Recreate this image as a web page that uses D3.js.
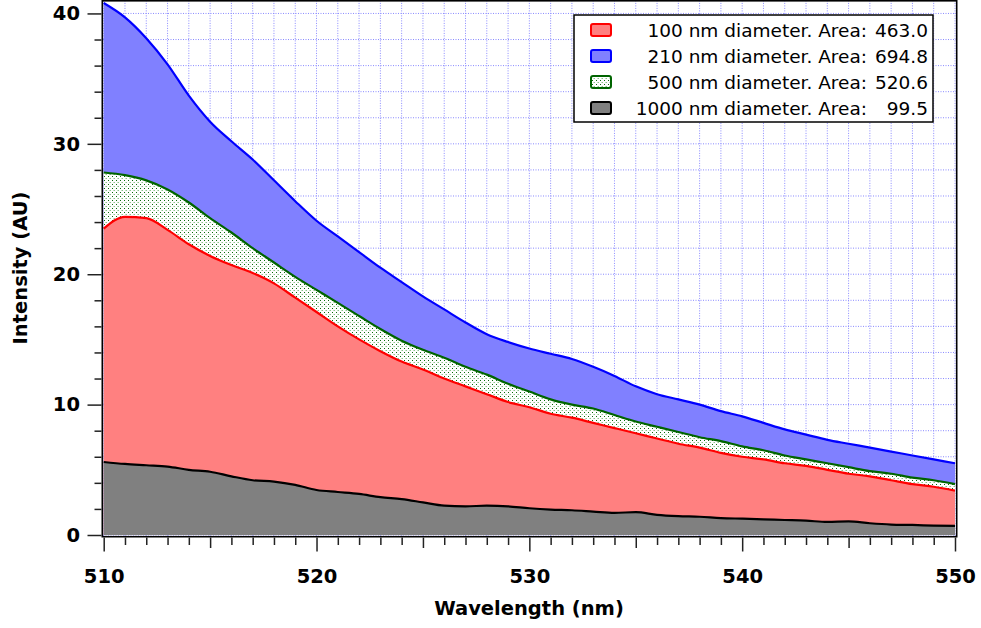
<!DOCTYPE html>
<html>
<head>
<meta charset="utf-8">
<script src="https://cdn.jsdelivr.net/npm/d3@7"></script>
<style>
  html, body { margin: 0; padding: 0; background: #fff; }
  svg { display: block; }
  .tick text { font-family: "DejaVu Sans", Verdana, sans-serif; font-weight: bold; font-size: 19.5px; fill: #000; }
  .tick line { stroke: #222; stroke-width: 1.5; }
  .title { font-family: "DejaVu Sans", Verdana, sans-serif; font-weight: bold; font-size: 19.5px; fill: #000; }
  .legend text { font-family: "DejaVu Sans", Verdana, sans-serif; font-size: 18.5px; fill: #000; }
</style>
</head>
<body>
<div id="chart"></div>
<script>
// wavelength samples (nm)
const wavelength = [510,511,512,513,514,515,516,517,518,519,
                    520,521,522,523,524,525,526,527,528,529,
                    530,531,532,533,534,535,536,537,538,539,
                    540,541,542,543,544,545,546,547,548,549,550];

// intensities (AU)
const d210 = [40.8,39.7,38.1,36.1,33.7,31.7,30.2,28.8,27.2,25.6,
              24.1,22.9,21.7,20.5,19.4,18.3,17.3,16.3,15.4,14.8,
              14.3,13.9,13.5,12.9,12.2,11.4,10.8,10.4,10.0,9.5,
              9.1,8.6,8.1,7.7,7.3,7.0,6.7,6.4,6.1,5.8,5.5];
const d500 = [27.8,27.6,27.2,26.5,25.5,24.3,23.2,22.0,20.9,19.8,
              18.8,17.8,16.8,15.8,14.9,14.2,13.6,12.9,12.3,11.6,
              11.0,10.4,10.0,9.7,9.2,8.7,8.3,7.9,7.5,7.2,
              6.8,6.5,6.1,5.8,5.5,5.2,4.9,4.7,4.4,4.2,3.9];
const d100 = [23.5,24.4,24.3,23.4,22.3,21.4,20.7,20.1,19.3,18.2,
              17.1,16.0,15.0,14.1,13.3,12.7,12.0,11.4,10.8,10.2,
              9.8,9.3,9.0,8.6,8.2,7.8,7.4,7.0,6.7,6.3,
              6.0,5.8,5.5,5.3,5.0,4.7,4.5,4.2,3.9,3.7,3.4];
const d1000 = [5.6,5.45,5.35,5.25,5.0,4.85,4.5,4.2,4.1,3.85,
               3.45,3.3,3.15,2.9,2.75,2.5,2.25,2.2,2.25,2.2,
               2.05,1.95,1.9,1.8,1.7,1.75,1.55,1.45,1.4,1.3,
               1.25,1.2,1.15,1.1,1.0,1.05,0.9,0.8,0.77,0.72,0.7];

const legendNames = ['100 nm diameter. Area:', '210 nm diameter. Area:',
                     '500 nm diameter. Area:', '1000 nm diameter. Area:'];
const legendAreas = ['463.0', '694.8', '520.6', '99.5'];

const xMajor = [510,520,530,540,550];
const yMajor = [0,10,20,30,40];

const W = 981, H = 628;
const svg = d3.select('#chart').append('svg').attr('width', W).attr('height', H);

const x = d3.scaleLinear().domain([510,550]).range([103.7,955]);
const y = d3.scaleLinear().domain([0,41]).range([535,0.4]);

// pattern for the 500 nm layer
const defs = svg.append('defs');
const pat = defs.append('pattern').attr('id','dots')
  .attr('patternUnits','userSpaceOnUse').attr('width',4).attr('height',4);
pat.append('rect').attr('width',4).attr('height',4).attr('fill','#fff');
pat.append('rect').attr('x',0).attr('y',0).attr('width',1).attr('height',1).attr('fill','#0b6b0b');
pat.append('rect').attr('x',2).attr('y',2).attr('width',1).attr('height',1).attr('fill','#8cc48c');
pat.append('rect').attr('x',1).attr('y',2).attr('width',1).attr('height',1).attr('fill','#c4e2c4');

// grid
const grid = svg.append('g').attr('stroke','#8a8aff').attr('stroke-width',1).attr('stroke-dasharray','1,1.5');
grid.selectAll('line.v').data(d3.range(510,551,1)).join('line')
  .attr('x1', d=>x(d)).attr('x2', d=>x(d)).attr('y1', 0.4).attr('y2', 536);
grid.selectAll('line.h').data(d3.range(0,41,2)).join('line')
  .attr('y1', d=>y(d)).attr('y2', d=>y(d)).attr('x1', 103).attr('x2', 956);

// layers, drawn biggest first
const layers = [
  {vals: d210,  fill: '#8080ff',     line: '#0000ff'},
  {vals: d500,  fill: 'url(#dots)',  line: '#006400'},
  {vals: d100,  fill: '#ff8080',     line: '#ff0000'},
  {vals: d1000, fill: '#808080',     line: '#000000'}
];
const area = d3.area().x((d,i)=>x(wavelength[i])).y0(y(0)).y1(d=>y(d)).curve(d3.curveMonotoneX);
const line = d3.line().x((d,i)=>x(wavelength[i])).y(d=>y(d)).curve(d3.curveMonotoneX);
layers.forEach(L => {
  svg.append('path').attr('d', area(L.vals)).attr('fill', L.fill);
  svg.append('path').attr('d', line(L.vals)).attr('fill','none')
    .attr('stroke', L.line).attr('stroke-width', 2.2);
});

// frame
svg.append('rect').attr('x',102.3).attr('y',0.8).attr('width',854.4).attr('height',535.9)
  .attr('fill','none').attr('stroke','#000').attr('stroke-width',1.6);

// y axis
const yAxisG = svg.append('g').attr('transform','translate(101.5,0)');
yAxisG.append('g')
  .call(d3.axisLeft(y).tickValues(d3.range(0,41,2).filter(v=>v%10)).tickSize(7).tickFormat(''))
  .call(g=>g.select('.domain').remove());
yAxisG.append('g')
  .call(d3.axisLeft(y).tickValues(yMajor).tickSize(14).tickPadding(7.5).tickFormat(d3.format('d')))
  .call(g=>g.select('.domain').remove());

// x axis
const xAxisG = svg.append('g').attr('transform','translate(0,537.5)');
xAxisG.append('g')
  .call(d3.axisBottom(x).tickValues(d3.range(510,551,1).filter(v=>v%5)).tickSize(7.5).tickFormat(''))
  .call(g=>g.select('.domain').remove());
xAxisG.append('g')
  .call(d3.axisBottom(x).tickValues([515,525,535,545]).tickSize(10.5).tickFormat(''))
  .call(g=>g.select('.domain').remove());
xAxisG.append('g')
  .call(d3.axisBottom(x).tickValues(xMajor).tickSize(14).tickPadding(17.5).tickFormat(d3.format('d')))
  .call(g=>g.select('.domain').remove());

// titles
svg.append('text').attr('class','title').attr('x', 529).attr('y', 615)
  .attr('text-anchor','middle').text('Wavelength (nm)');
svg.append('text').attr('class','title')
  .attr('transform','translate(27,268) rotate(-90)')
  .attr('text-anchor','middle').text('Intensity (AU)');

// legend
const leg = svg.append('g').attr('class','legend');
leg.append('rect').attr('x',574).attr('y',15).attr('width',359).attr('height',107)
  .attr('fill','#fff').attr('stroke','#000').attr('stroke-width',1.5);
const legOrder = [2, 0, 1, 3]; // 100, 210, 500, 1000 -> layer index
legendNames.forEach((name, i) => {
  const L = layers[legOrder[i]];
  const cy = 30 + i*26;
  leg.append('rect').attr('x',591).attr('y',cy-6).attr('width',20).attr('height',12)
    .attr('rx',2).attr('fill',L.fill).attr('stroke',L.line).attr('stroke-width',2);
  leg.append('text').attr('x',867).attr('y',cy+6.5).attr('text-anchor','end').text(name);
  leg.append('text').attr('x',928).attr('y',cy+6.5).attr('text-anchor','end').text(legendAreas[i]);
});
</script>
</body>
</html>
